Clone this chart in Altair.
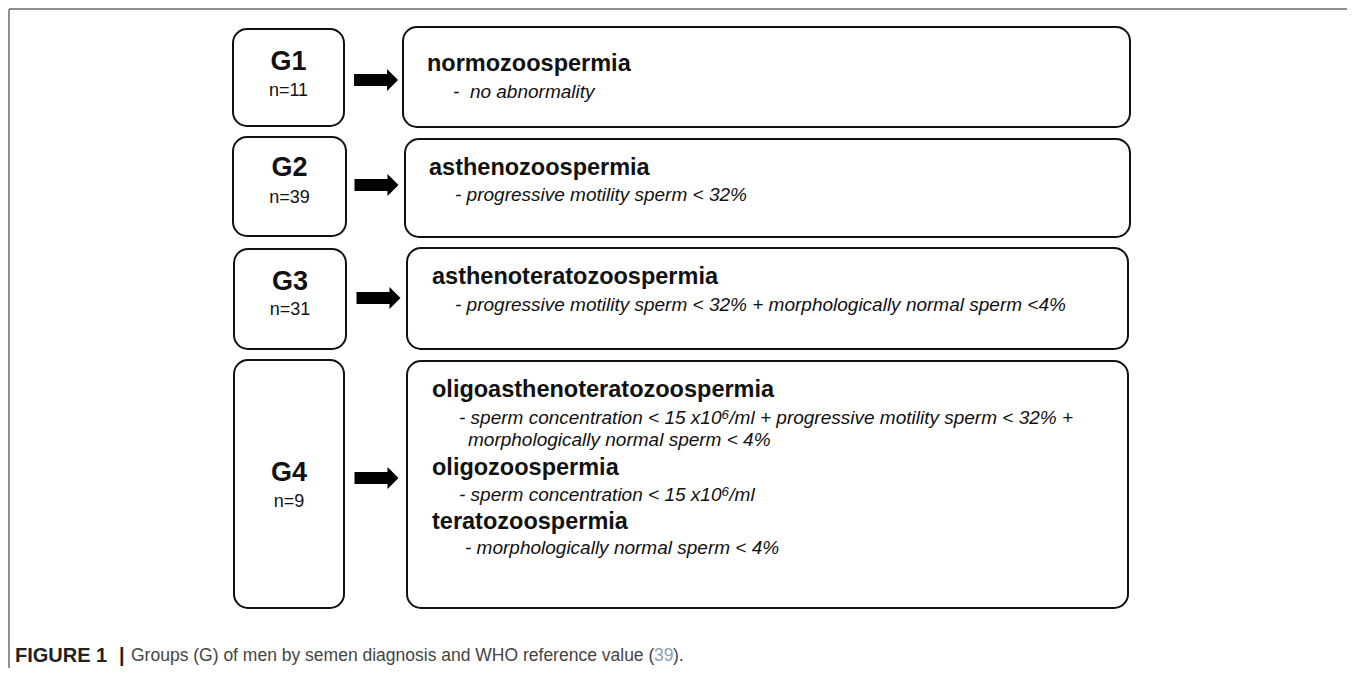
import altair as alt
import pandas as pd

# ---------------- content ----------------
groups = ["G1", "G2", "G3", "G4"]
counts = ["n=11", "n=39", "n=31", "n=9"]
headings = ["normozoospermia", "asthenozoospermia", "asthenoteratozoospermia",
            "oligoasthenoteratozoospermia", "oligozoospermia", "teratozoospermia"]
criteria = ["-\u00a0\u00a0no abnormality",
            "- progressive motility sperm < 32%",
            "- progressive motility sperm < 32% + morphologically normal sperm <4%",
            "- sperm concentration < 15 x10\u2076/ml + progressive motility sperm < 32% +",
            "morphologically normal sperm < 4%",
            "- sperm concentration < 15 x10\u2076/ml",
            "- morphologically normal sperm < 4%"]
caption_parts = ["FIGURE 1", "|",
                 "Groups (G) of men by semen diagnosis and WHO reference value (",
                 "39", ")."]

# ---------------- layout (pixel positions on the page) ----------------
left_x0 = [233, 233, 234, 234]
left_x1 = [344, 346, 346, 344]
left_y0 = [29, 137, 249, 360]
left_y1 = [126, 236, 349, 608]
label_x = [288.5, 289.5, 290, 289]
label_y = [62, 168, 282, 473]
count_y = [91, 198, 310, 502]
arrow_x = [376, 376.5, 378.5, 376.5]
arrow_y = [80, 185, 298, 478]
right_x0 = [403, 405, 407, 407]
right_x1 = [1130, 1130, 1128, 1128]
right_y0 = [27, 139, 248, 361]
right_y1 = [127, 237, 349, 608]
head_x = [427, 429, 432, 432, 432, 432]
head_y = [64, 168, 277, 390, 468, 522]
crit_x = [453, 455, 455, 459, 468, 459, 465]
crit_y = [92, 195, 305, 418, 440, 495, 548]
cap_x = [15, 119, 131, 654, 673]
cap_y = 656
frame_x0 = [9, 9]
frame_x1 = [1347, 9]
frame_y0 = [9, 9]
frame_y1 = [9, 668]

FONT = "Liberation Sans, Arial, Helvetica, sans-serif"
W, H = 1339, 660

xs = alt.Scale(domain=[8, 8 + W], nice=False, zero=False)
ys = alt.Scale(domain=[8, 8 + H], nice=False, zero=False, reverse=True)


def X(f="x"):
    return alt.X(f"{f}:Q", scale=xs, axis=None)


def Y(f="y"):
    return alt.Y(f"{f}:Q", scale=ys, axis=None)


boxes = pd.DataFrame({
    "x": left_x0 + right_x0, "x2": left_x1 + right_x1,
    "y": left_y0 + right_y0, "y2": left_y1 + right_y1,
})
frame = pd.DataFrame({"x": frame_x0, "x2": frame_x1, "y": frame_y0, "y2": frame_y1})
arrows = pd.DataFrame({"x": arrow_x, "y": arrow_y})
labels = pd.DataFrame({"t": groups, "x": label_x, "y": label_y})
cnts = pd.DataFrame({"t": counts, "x": label_x, "y": count_y})
heads = pd.DataFrame({"t": headings, "x": head_x, "y": head_y})
crits = pd.DataFrame({"t": criteria, "x": crit_x, "y": crit_y})
cap = pd.DataFrame({"t": caption_parts, "x": cap_x, "y": [cap_y] * len(cap_x),
                    "c": ["#222222", "#222222", "#444444", "#8c9db3", "#444444"]})

ARROW = "M-1,-0.273 L0.5,-0.273 L0.5,-0.5 L1,0 L0.5,0.5 L0.5,0.273 L-1,0.273 Z"

frame_layer = alt.Chart(frame).mark_rule(color="#6b6b6b", strokeWidth=1.5).encode(
    x=X(), x2="x2:Q", y=Y(), y2="y2:Q")

box_layer = alt.Chart(boxes).mark_rect(
    cornerRadius=14, fill="white", stroke="#111111", strokeWidth=2
).encode(x=X(), x2="x2:Q", y=Y(), y2="y2:Q")

arrow_layer = alt.Chart(arrows).mark_point(
    shape=ARROW, size=1936, filled=True, color="#000000", opacity=1, strokeWidth=0
).encode(x=X(), y=Y())

label_layer = alt.Chart(labels).mark_text(
    font=FONT, fontSize=27, fontWeight="bold", color="#111111",
    align="center", baseline="middle"
).encode(x=X(), y=Y(), text="t:N")

count_layer = alt.Chart(cnts).mark_text(
    font=FONT, fontSize=18, color="#111111", align="center", baseline="middle"
).encode(x=X(), y=Y(), text="t:N")

head_layer = alt.Chart(heads).mark_text(
    font=FONT, fontSize=23.5, fontWeight="bold", color="#111111",
    align="left", baseline="middle"
).encode(x=X(), y=Y(), text="t:N")

crit_layer = alt.Chart(crits).mark_text(
    font=FONT, fontSize=19, fontStyle="italic", color="#111111",
    align="left", baseline="middle"
).encode(x=X(), y=Y(), text="t:N")

cap_bold = alt.Chart(cap.iloc[:2]).mark_text(
    font=FONT, fontSize=20, fontWeight="bold", align="left", baseline="middle"
).encode(x=X(), y=Y(), text="t:N", color=alt.Color("c:N", scale=None))

cap_norm = alt.Chart(cap.iloc[2:]).mark_text(
    font=FONT, fontSize=17.5, align="left", baseline="middle"
).encode(x=X(), y=Y(), text="t:N", color=alt.Color("c:N", scale=None))

chart = alt.layer(
    frame_layer, box_layer, arrow_layer, label_layer, count_layer,
    head_layer, crit_layer, cap_bold, cap_norm
).properties(
    width=W, height=H, padding=0,
    autosize=alt.AutoSizeParams(type="none"),
    background="white",
).configure_view(stroke=None)

chart.save("out.html", embed_options={"renderer": "svg", "actions": False})
